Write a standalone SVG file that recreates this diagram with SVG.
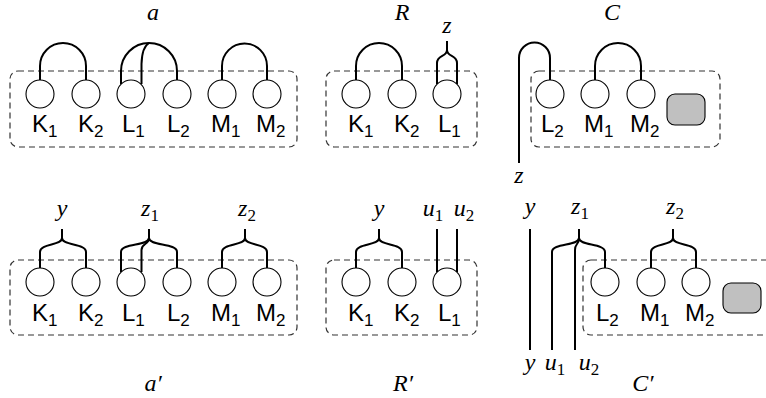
<svg xmlns="http://www.w3.org/2000/svg" width="766" height="398" viewBox="0 0 766 398">
<style>
.box{fill:none;stroke:#333;stroke-width:1.2;stroke-dasharray:6,4}
.n{fill:#fff;stroke:#000;stroke-width:1.1}
.w{fill:none;stroke:#000;stroke-width:2;stroke-linejoin:round}
.gr{fill:#c0c0c0;stroke:#000;stroke-width:1.1}
.s{font-family:"Liberation Sans","DejaVu Sans",sans-serif;font-size:24px}
.m{font-family:"Liberation Serif","DejaVu Serif",serif;font-style:italic;font-size:24px;text-anchor:middle}
.sub{font-size:17px;font-style:normal}
</style>
<rect width="766" height="398" fill="#fff"/>

<g id="panel-a">
<rect class="box" x="10" y="71" width="287" height="76" rx="8"/>
<text class="m" x="153" y="20">a</text>
<g id="a-K1"><circle class="n" cx="40" cy="94" r="14"/><text class="s" x="32" y="132">K<tspan class="sub" dy="5">1</tspan></text></g>
<g id="a-K2"><circle class="n" cx="86" cy="94" r="14"/><text class="s" x="78" y="132">K<tspan class="sub" dy="5">2</tspan></text></g>
<g id="a-L1"><circle class="n" cx="131" cy="94" r="14"/><text class="s" x="122" y="132">L<tspan class="sub" dy="5">1</tspan></text></g>
<g id="a-L2"><circle class="n" cx="177" cy="94" r="14"/><text class="s" x="167" y="132">L<tspan class="sub" dy="5">2</tspan></text></g>
<g id="a-M1"><circle class="n" cx="222" cy="94" r="14"/><text class="s" x="211" y="132">M<tspan class="sub" dy="5">1</tspan></text></g>
<g id="a-M2"><circle class="n" cx="267" cy="94" r="14"/><text class="s" x="256" y="132">M<tspan class="sub" dy="5">2</tspan></text></g>
</g>

<g id="panel-R">
<rect class="box" x="326" y="71" width="151" height="76" rx="8"/>
<text class="m" x="402" y="20">R</text>
<text class="m" x="447" y="33">z</text>
<g id="R-K1"><circle class="n" cx="356" cy="94" r="14"/><text class="s" x="348" y="132">K<tspan class="sub" dy="5">1</tspan></text></g>
<g id="R-K2"><circle class="n" cx="402" cy="94" r="14"/><text class="s" x="394" y="132">K<tspan class="sub" dy="5">2</tspan></text></g>
<g id="R-L1"><circle class="n" cx="447" cy="94" r="14"/><text class="s" x="438" y="132">L<tspan class="sub" dy="5">1</tspan></text></g>
</g>

<g id="panel-C">
<rect class="box" x="531" y="71" width="189" height="76" rx="8"/>
<text class="m" x="612" y="20">C</text>
<text class="m" x="519" y="183">z</text>
<g id="C-L2"><circle class="n" cx="550" cy="94" r="14"/><text class="s" x="541" y="132">L<tspan class="sub" dy="5">2</tspan></text></g>
<g id="C-M1"><circle class="n" cx="595" cy="94" r="14"/><text class="s" x="584" y="132">M<tspan class="sub" dy="5">1</tspan></text></g>
<g id="C-M2"><circle class="n" cx="641" cy="94" r="14"/><text class="s" x="630" y="132">M<tspan class="sub" dy="5">2</tspan></text></g>
<rect id="C-rest" class="gr" x="667" y="94" width="38" height="31" rx="8"/>
</g>

<g id="panel-a2">
<rect class="box" x="10" y="260" width="287" height="75" rx="8"/>
<text class="m" x="153" y="391">a′</text>
<text class="m" x="62" y="216">y</text>
<text class="m" x="150" y="216">z<tspan class="sub" dy="5">1</tspan></text>
<text class="m" x="247" y="216">z<tspan class="sub" dy="5">2</tspan></text>
<g id="a2-K1"><circle class="n" cx="40" cy="282" r="14"/><text class="s" x="32" y="321">K<tspan class="sub" dy="5">1</tspan></text></g>
<g id="a2-K2"><circle class="n" cx="86" cy="282" r="14"/><text class="s" x="78" y="321">K<tspan class="sub" dy="5">2</tspan></text></g>
<g id="a2-L1"><circle class="n" cx="131" cy="282" r="14"/><text class="s" x="122" y="321">L<tspan class="sub" dy="5">1</tspan></text></g>
<g id="a2-L2"><circle class="n" cx="177" cy="282" r="14"/><text class="s" x="167" y="321">L<tspan class="sub" dy="5">2</tspan></text></g>
<g id="a2-M1"><circle class="n" cx="222" cy="282" r="14"/><text class="s" x="211" y="321">M<tspan class="sub" dy="5">1</tspan></text></g>
<g id="a2-M2"><circle class="n" cx="267" cy="282" r="14"/><text class="s" x="256" y="321">M<tspan class="sub" dy="5">2</tspan></text></g>
</g>

<g id="panel-R2">
<rect class="box" x="326" y="260" width="151" height="75" rx="8"/>
<text class="m" x="403" y="391">R′</text>
<text class="m" x="379" y="216">y</text>
<text class="m" x="433" y="216">u<tspan class="sub" dy="5">1</tspan></text>
<text class="m" x="464" y="216">u<tspan class="sub" dy="5">2</tspan></text>
<g id="R2-K1"><circle class="n" cx="356" cy="282" r="14"/><text class="s" x="348" y="321">K<tspan class="sub" dy="5">1</tspan></text></g>
<g id="R2-K2"><circle class="n" cx="402" cy="282" r="14"/><text class="s" x="394" y="321">K<tspan class="sub" dy="5">2</tspan></text></g>
<g id="R2-L1"><circle class="n" cx="447" cy="282" r="14"/><text class="s" x="438" y="321">L<tspan class="sub" dy="5">1</tspan></text></g>
</g>

<g id="panel-C2">
<rect class="box" x="583" y="260" width="200" height="75" rx="8"/>
<text class="m" x="643" y="391">C′</text>
<text class="m" x="530" y="214">y</text>
<text class="m" x="580" y="214">z<tspan class="sub" dy="5">1</tspan></text>
<text class="m" x="675" y="214">z<tspan class="sub" dy="5">2</tspan></text>
<text class="m" x="530" y="370">y</text>
<text class="m" x="555" y="370">u<tspan class="sub" dy="5">1</tspan></text>
<text class="m" x="589" y="370">u<tspan class="sub" dy="5">2</tspan></text>
<g id="C2-L2"><circle class="n" cx="605" cy="282" r="14"/><text class="s" x="596" y="321">L<tspan class="sub" dy="5">2</tspan></text></g>
<g id="C2-M1"><circle class="n" cx="651" cy="282" r="14"/><text class="s" x="640" y="321">M<tspan class="sub" dy="5">1</tspan></text></g>
<g id="C2-M2"><circle class="n" cx="696" cy="282" r="14"/><text class="s" x="685" y="321">M<tspan class="sub" dy="5">2</tspan></text></g>
<rect id="C2-rest" class="gr" x="723" y="283" width="38" height="30" rx="8"/>
</g>

<g id="connectors">
<path class="w" d="M40,80 V66 A23,23 0 0 1 86,66 V80"/>
<path class="w" d="M121,84 V71 A28,28 0 0 1 177,71 V80"/>
<path class="w" d="M141.5,84 V64 Q142,47 149,43"/>
<path class="w" d="M222,80 V66 A22.5,22.5 0 0 1 267,66 V80"/>
<path class="w" d="M356,80 V66 A23,23 0 0 1 402,66 V80"/>
<path class="w" d="M437,84 V63 C437,55 447,57 447,50 C447,57 457,55 457,63 V84 M447,50 V41"/>
<path class="w" d="M519,163 V58 A15.5,15.5 0 0 1 550,58 V80"/>
<path class="w" d="M595,80 V66 A23,23 0 0 1 641,66 V80"/>
<path class="w" d="M40,268 V252 C40,243 62,246 62,238 C62,246 86,243 86,252 V268 M62,238 V229"/>
<path class="w" d="M121,272 V252 C121,243 149,246 149,238 C149,246 177,243 177,252 V268 M149,238 V229"/>
<path class="w" d="M141.5,272 V250 C141.5,243 149,245 149,238"/>
<path class="w" d="M222,268 V252 C222,243 245,246 245,238 C245,246 267,243 267,252 V268 M245,238 V229"/>
<path class="w" d="M356,268 V252 C356,243 379,246 379,238 C379,246 402,243 402,252 V268 M379,238 V229"/>
<path class="w" d="M437,272 V229"/>
<path class="w" d="M457,272 V229"/>
<path class="w" d="M530,350 V229"/>
<path class="w" d="M552,350 V252 C552,243 579,246 579,238 C579,246 605,243 605,252 V268 M579,238 V229"/>
<path class="w" d="M575,350 V250 C575,243 579,245 579,238"/>
<path class="w" d="M651,268 V252 C651,243 673,246 673,238 C673,246 696,243 696,252 V268 M673,238 V229"/>
</g>
</svg>
